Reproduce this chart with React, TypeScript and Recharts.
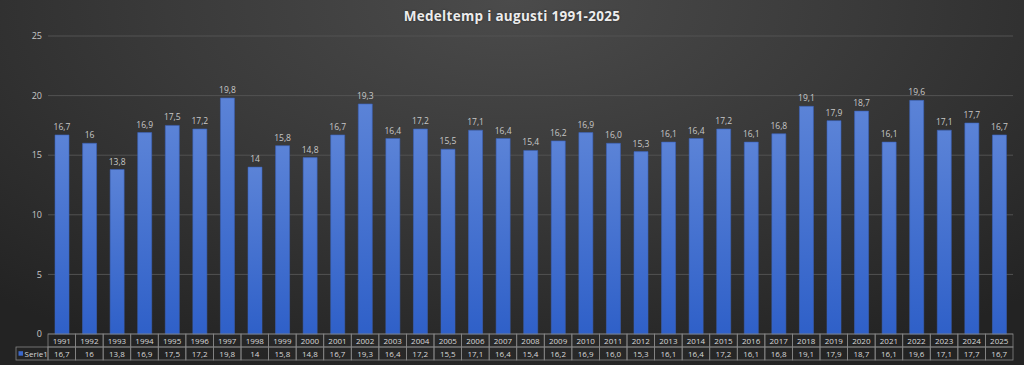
import React from "react";
import {
  BarChart,
  Bar,
  XAxis,
  YAxis,
  CartesianGrid,
  LabelList,
} from "recharts";

const years = [
  "1991", "1992", "1993", "1994", "1995", "1996", "1997", "1998", "1999", "2000",
  "2001", "2002", "2003", "2004", "2005", "2006", "2007", "2008", "2009", "2010",
  "2011", "2012", "2013", "2014", "2015", "2016", "2017", "2018", "2019", "2020",
  "2021", "2022", "2023", "2024", "2025",
];

const temps = [
  16.7, 16, 13.8, 16.9, 17.5, 17.2, 19.8, 14, 15.8, 14.8,
  16.7, 19.3, 16.4, 17.2, 15.5, 17.1, 16.4, 15.4, 16.2, 16.9,
  16.0, 15.3, 16.1, 16.4, 17.2, 16.1, 16.8, 19.1, 17.9, 18.7,
  16.1, 19.6, 17.1, 17.7, 16.7,
];

// labels as printed in the chart (some keep the trailing ",0")
const tempLabels = [
  "16,7", "16", "13,8", "16,9", "17,5", "17,2", "19,8", "14", "15,8", "14,8",
  "16,7", "19,3", "16,4", "17,2", "15,5", "17,1", "16,4", "15,4", "16,2", "16,9",
  "16,0", "15,3", "16,1", "16,4", "17,2", "16,1", "16,8", "19,1", "17,9", "18,7",
  "16,1", "19,6", "17,1", "17,7", "16,7",
];

const yTicks = [0, 5, 10, 15, 20, 25];

const data = years.map((y, i) => ({ year: y, temp: temps[i], txt: tempLabels[i] }));

const W = 1024;
const H = 365;
const PLOT_LEFT = 48;
const PLOT_RIGHT = 1013;
const ROW_H = 13;
const FONT = "'Open Sans', 'Liberation Sans', sans-serif";
const GRID = "#858585";
const TXT = "#d8d8d8";

// data table under the plot: year row + value row, drawn per category tick
const TableTick = (props: any) => {
  const { x, y, payload, index } = props;
  const band = (PLOT_RIGHT - PLOT_LEFT) / years.length;
  const left = x - band / 2;
  return (
    <g>
      <rect x={left} y={y} width={band} height={ROW_H} fill="none" stroke={GRID} strokeWidth={0.8} />
      <rect x={left} y={y + ROW_H} width={band} height={ROW_H} fill="none" stroke={GRID} strokeWidth={0.8} />
      <text x={x} y={y + ROW_H / 2 + 3} textAnchor="middle" fontSize={8} fill={TXT} fontFamily={FONT}>
        {payload.value}
      </text>
      <text x={x} y={y + ROW_H * 1.5 + 3} textAnchor="middle" fontSize={8} fill={TXT} fontFamily={FONT}>
        {tempLabels[index]}
      </text>
      {index === 0 && (
        <g>
          <rect x={16} y={y + ROW_H} width={left - 16} height={ROW_H} fill="none" stroke={GRID} strokeWidth={0.8} />
          <rect x={18.5} y={y + ROW_H + 4.2} width={4.5} height={4.5} fill="#3b67c9" />
          <text x={24.5} y={y + ROW_H * 1.5 + 3} fontSize={8} fill={TXT} fontFamily={FONT}>
            Serie1
          </text>
        </g>
      )}
    </g>
  );
};

export default function App() {
  return (
    <div
      style={{
        position: "absolute",
        left: 0,
        top: 0,
        width: W,
        height: H,
        background:
          "radial-gradient(ellipse 75% 110% at 50% 0%, #4b4b4b 0%, #3a3a3a 45%, #232323 100%)",
        fontFamily: FONT,
      }}
    >
      <div
        style={{
          position: "absolute",
          top: 7,
          left: 0,
          width: W,
          textAlign: "center",
          color: "#ececec",
          fontWeight: 700,
          fontSize: 13.5,
          letterSpacing: 0.3,
          textShadow: "0 0 2px rgba(0,0,0,0.5)",
        }}
      >
        Medeltemp i augusti 1991-2025
      </div>
      <div style={{ position: "absolute", left: 0, top: 0 }}>
        <BarChart
          width={W}
          height={H}
          data={data}
          margin={{ top: 36, right: W - PLOT_RIGHT, bottom: 5, left: 0 }}
        >
          <defs>
            <linearGradient id="barFill" x1="0" y1="0" x2="0" y2="1">
              <stop offset="0%" stopColor="#5b83d7" />
              <stop offset="100%" stopColor="#2f60c8" />
            </linearGradient>
          </defs>
          <CartesianGrid vertical={false} stroke="#525252" strokeWidth={1} />
          <XAxis
            dataKey="year"
            interval={0}
            axisLine={false}
            tickLine={false}
            tickSize={0}
            tickMargin={0}
            height={ROW_H * 2}
            tick={<TableTick />}
          />
          <YAxis
            domain={[0, 25]}
            ticks={yTicks}
            width={PLOT_LEFT}
            axisLine={false}
            tickLine={false}
            tickSize={4}
            tickMargin={2}
            tick={{ fontSize: 9, fill: "#c8c8c8", fontFamily: FONT }}
          />
          <Bar
            dataKey="temp"
            barSize={14}
            fill="url(#barFill)"
            stroke="#3a62b8"
            strokeWidth={0.6}
            isAnimationActive={false}
          >
            <LabelList
              dataKey="txt"
              position="top"
              offset={5}
              fontSize={8.5}
              fill="#c8c8c8"
              fontFamily={FONT}
            />
          </Bar>
        </BarChart>
      </div>
    </div>
  );
}
